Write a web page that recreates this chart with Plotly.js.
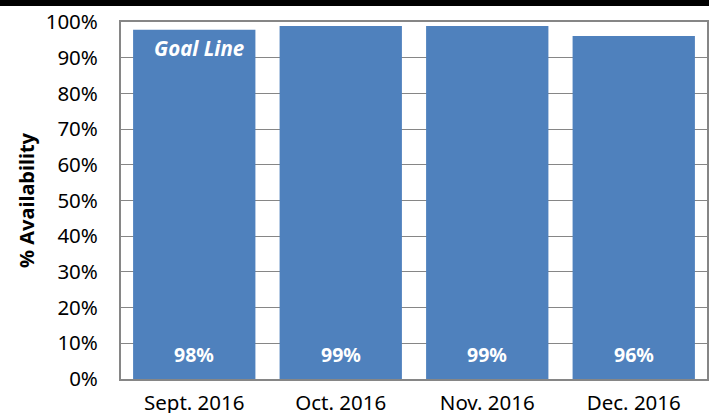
<!DOCTYPE html>
<html>
<head>
<meta charset="utf-8">
<script src="https://cdn.plot.ly/plotly-3.0.1.min.js"></script>
<style>
html,body{margin:0;padding:0;background:#fff;}
#wrap{position:relative;width:709px;height:413px;overflow:hidden;}
#band{position:absolute;left:0;top:0;width:709px;height:6px;background:#000;z-index:10;}
#chart{width:709px;height:413px;}
</style>
</head>
<body>
<div id="wrap"><div id="band"></div><div id="chart"></div></div>
<script>
const categories = ["Sept. 2016", "Oct. 2016", "Nov. 2016", "Dec. 2016"];
const availability = [97.8, 98.9, 98.9, 96.1];
const valueLabels = ["98%", "99%", "99%", "96%"];
const goalText = "Goal Line";
const yTickVals = [0,10,20,30,40,50,60,70,80,90,100];
const yTickText = ["0%","10%","20%","30%","40%","50%","60%","70%","80%","90%","100%"];

const font = "Noto Sans, Open Sans, sans-serif";
const annotations = categories.map((c,i)=>({
  x: c, y: 0, xref:'x', yref:'y', text: '<b>' + valueLabels[i] + '</b>', showarrow:false,
  yanchor:'middle', yshift: 25,
  font:{family:font, size:19.5, color:'#ffffff'}
}));
annotations.push({
  x: categories[0], y: 92.7, xref:'x', yref:'y', text: '<b><i>' + goalText + '</i></b>', showarrow:false,
  xshift: 5, yanchor:'middle', font:{family:font, size:20.5, color:'#ffffff'}
});

Plotly.newPlot('chart', [{
  type:'bar', x: categories, y: availability,
  marker:{color:'#4F81BD'}, hoverinfo:'none'
}], {
  width:709, height:413,
  margin:{l:121, r:2, t:22, b:34, pad:0},
  paper_bgcolor:'#ffffff', plot_bgcolor:'#ffffff',
  bargap:0.165,
  showlegend:false,
  xaxis:{
    showline:true, linecolor:'#868686', linewidth:2, mirror:true,
    ticks:'', tickfont:{family:font, size:20.5, color:'#000'},
    ticklabelstandoff: 4,
    showgrid:false
  },
  yaxis:{
    range:[0,100], tickvals:yTickVals, ticktext:yTickText,
    showline:true, linecolor:'#868686', linewidth:2, mirror:true,
    gridcolor:'#868686', gridwidth:1, zeroline:false,
    ticks:'', ticklabelstandoff: 17,
    tickfont:{family:font, size:20.5, color:'#000'},
    title:{text:'<b>% Availability</b>', font:{family:font, size:20, color:'#000'}, standoff:6}
  },
  annotations: annotations
}, {displayModeBar:false, staticPlot:true});
</script>
</body>
</html>
